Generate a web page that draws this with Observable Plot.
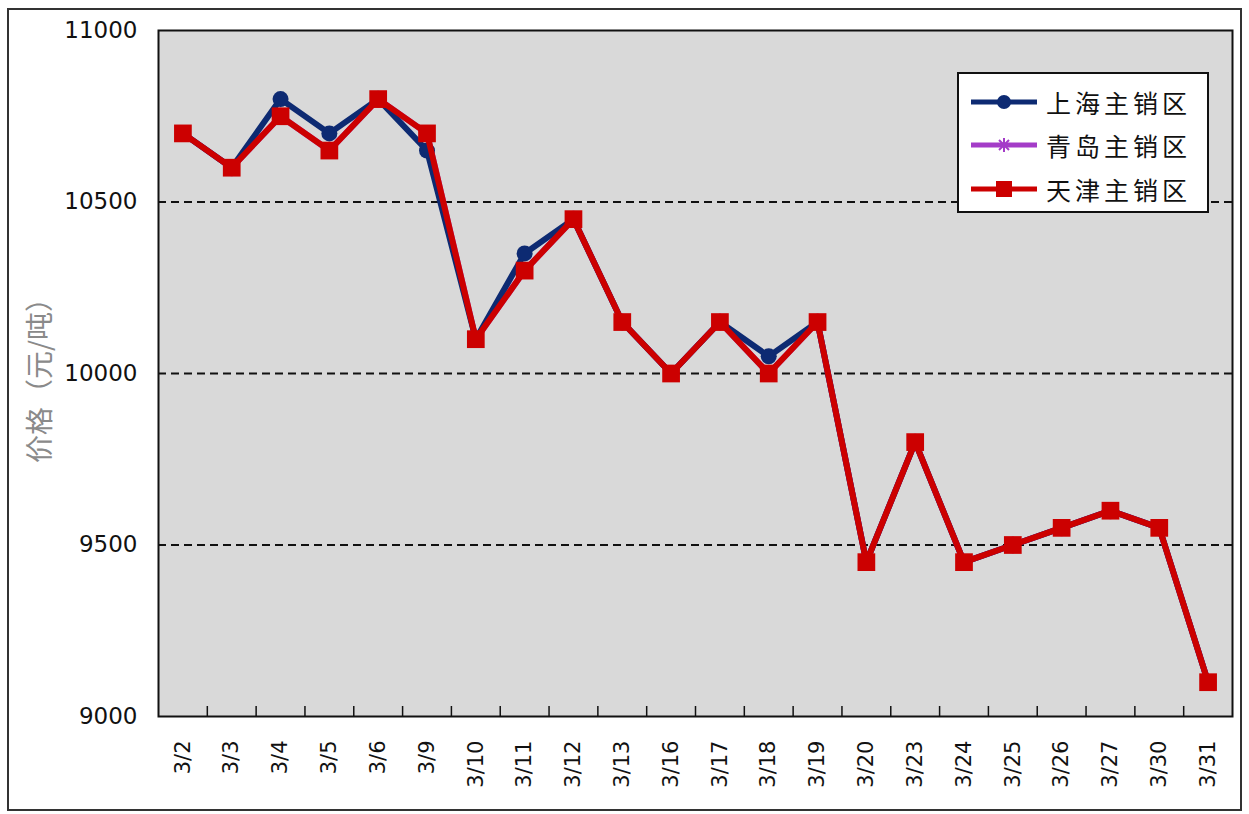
<!DOCTYPE html>
<html><head><meta charset="utf-8">
<script src="https://cdn.jsdelivr.net/npm/d3@7"></script>
<script src="https://cdn.jsdelivr.net/npm/@observablehq/plot@0.6"></script>
<style>
body{margin:0;background:#fff;}
#wrap{position:relative;width:1249px;height:814px;overflow:hidden;}
#border{position:absolute;left:7px;top:8px;width:1235px;height:803px;border:2px solid #333;pointer-events:none;box-sizing:border-box;}
#legend{position:absolute;left:957px;top:72px;width:252px;height:141px;box-sizing:border-box;border:2px solid #111;background:#fff;font-family:"Noto Sans CJK SC",sans-serif;font-size:25px;color:#111;}
.row{position:absolute;left:12px;height:30px;display:flex;align-items:center;}
.row span{margin-left:9px;letter-spacing:4px;}
</style></head><body>
<div id="wrap"><div id="chart"></div><div id="legend"></div><div id="border"></div></div>
<script>
const dates = ["3/2","3/3","3/4","3/5","3/6","3/9","3/10","3/11","3/12","3/13","3/16","3/17","3/18","3/19","3/20","3/23","3/24","3/25","3/26","3/27","3/30","3/31"];
const shanghai = [10700,10600,10800,10700,10800,10650,10100,10350,10450,10150,10000,10150,10050,10150,9450,9800,9450,9500,9550,9600,9550,9100];
const qingdao  = [10700,10600,10750,10650,10800,10700,10100,10300,10450,10150,10000,10150,10000,10150,9450,9800,9450,9500,9550,9600,9550,9100];
const tianjin  = [10700,10600,10750,10650,10800,10700,10100,10300,10450,10150,10000,10150,10000,10150,9450,9800,9450,9500,9550,9600,9550,9100];
const yTicks = [9000,9500,10000,10500,11000];
const gridTicks = [9500,10000,10500];
const seriesNames = ["上海主销区","青岛主销区","天津主销区"];
const seriesColors = ["#0d2a72","#a43cc8","#cc0000"];
const seriesSymbols = ["circle","asterisk","square"];
const yLabel = "价格（元/吨）";

const W = 1249, H = 814;
const mL = 158, mR = 17, mT = 30, mB = 98;
const plotH = H - mT - mB;
const n = dates.length;
const allValues = [shanghai, qingdao, tianjin];
const rows = [];
allValues.forEach((vals, s) => vals.forEach((v, i) => rows.push({series: seriesNames[s], i, date: dates[i], value: v})));
const bySeries = name => rows.filter(r => r.series === name);
const boundaries = d3.range(1, n).map(k => k - 0.5);

// draw order: 青岛 (hidden under), 上海, 天津 on top
const order = [1, 0, 2];
const seriesMarks = [];
for (const s of order) {
  const data = bySeries(seriesNames[s]);
  seriesMarks.push(Plot.line(data, {x: "i", y: "value", stroke: seriesColors[s], strokeWidth: 6}));
  if (seriesSymbols[s] === "circle") seriesMarks.push(Plot.dot(data, {x: "i", y: "value", r: 8, fill: seriesColors[s], symbol: "circle"}));
  else if (seriesSymbols[s] === "square") seriesMarks.push(Plot.dot(data, {x: "i", y: "value", r: 10, fill: seriesColors[s], symbol: "square"}));
  else seriesMarks.push(Plot.dot(data, {x: "i", y: "value", r: 8, stroke: seriesColors[s], strokeWidth: 2, symbol: "asterisk"}));
}

const chart = Plot.plot({
  width: W, height: H,
  marginLeft: mL, marginRight: mR, marginTop: mT, marginBottom: mB,
  style: {fontFamily: "DejaVu Sans", background: "transparent", color: "#111"},
  x: {domain: [-0.5, n - 0.5], axis: null},
  y: {domain: [yTicks[0], yTicks[yTicks.length - 1]], axis: null},
  marks: [
    Plot.frame({fill: "#d9d9d9"}),
    Plot.ruleY(gridTicks, {stroke: "#111", strokeWidth: 1.8, strokeDasharray: "8,5"}),
    Plot.ruleX(boundaries, {stroke: "#111", strokeWidth: 1.5, insetTop: plotH - 10}),
    ...seriesMarks,
    Plot.frame({stroke: "#111", strokeWidth: 2}),
    Plot.axisY(yTicks, {tickSize: 0, tickPadding: 21, fontSize: 23, fill: "#111", label: null, tickFormat: d => String(d)}),
    Plot.text(bySeries(seriesNames[0]), {x: "i", y: () => yTicks[0], text: "date", rotate: -90, textAnchor: "end", lineAnchor: "middle", dy: 24, fontSize: 21, fill: "#111"}),
    Plot.text([yLabel], {frameAnchor: "left", dx: -117, rotate: -90, textAnchor: "middle", lineAnchor: "middle", fontSize: 28, fill: "#8a8a8a", fontFamily: "Noto Sans CJK SC"})
  ]
});
document.getElementById("chart").appendChild(chart);

// legend
const legend = document.getElementById("legend");
const rowTops = [13, 56, 100];
seriesNames.forEach((name, s) => {
  const row = document.createElement("div");
  row.className = "row";
  row.style.top = rowTops[s] + "px";
  let marker = "";
  if (seriesSymbols[s] === "circle") marker = `<circle cx="33" cy="15" r="7" fill="${seriesColors[s]}"/>`;
  else if (seriesSymbols[s] === "square") marker = `<rect x="25" y="7" width="16" height="16" fill="${seriesColors[s]}"/>`;
  else marker = `<g stroke="${seriesColors[s]}" stroke-width="2"><line x1="26" y1="15" x2="40" y2="15"/><line x1="33" y1="8" x2="33" y2="22"/><line x1="28" y1="10" x2="38" y2="20"/><line x1="38" y1="10" x2="28" y2="20"/></g>`;
  row.innerHTML = `<svg width="66" height="30"><line x1="0" y1="15" x2="66" y2="15" stroke="${seriesColors[s]}" stroke-width="5"/>${marker}</svg><span>${name}</span>`;
  legend.appendChild(row);
});
</script>
</body></html>
